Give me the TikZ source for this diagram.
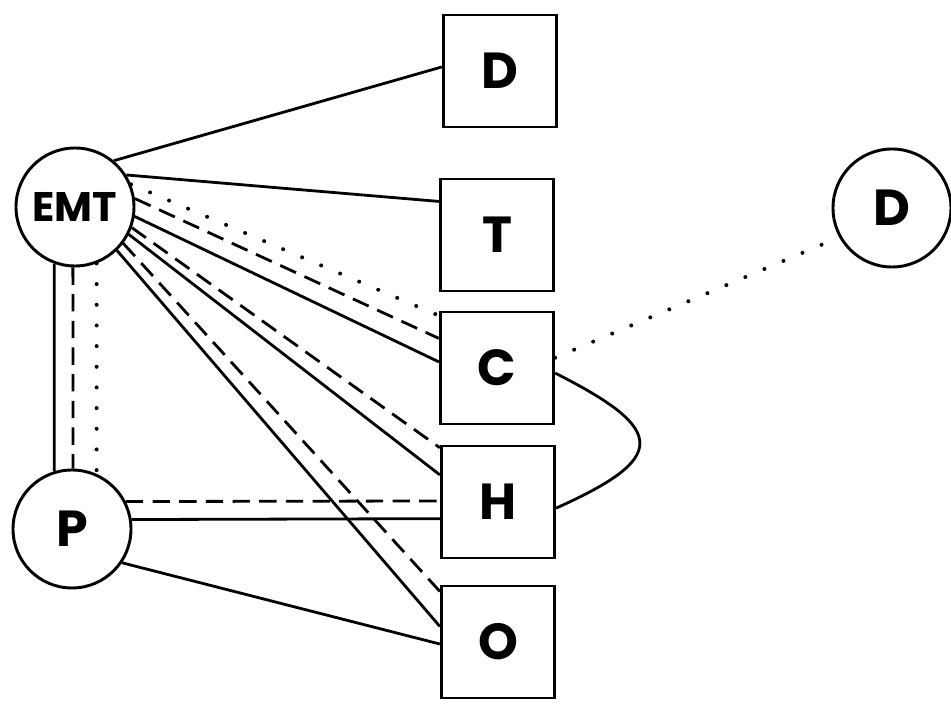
\documentclass[tikz,border=0pt]{standalone}
\usepackage{fontspec}
\setmainfont{Poppins}

\begin{document}
\begin{tikzpicture}[x=0.75pt,y=-0.75pt]
   \useasboundingbox (0,0) rectangle (951,705);
   \tikzset{VertexStyle/.style={draw, circle, line width=2.2pt, minimum size=88.5pt, inner sep=0pt,
      font=\fontsize{38}{40}\selectfont\bfseries}}
   \tikzset{BoxStyle/.style={draw, rectangle, line width=2.2pt, minimum width=85pt, minimum height=84pt,
      inner sep=0pt, font=\fontsize{38}{40}\selectfont\bfseries}}
   \tikzset{EdgeStyle/.style={line width=2.1pt}}
   \tikzset{DashEdge/.style={EdgeStyle, dash pattern=on 13pt off 7pt}}
   \tikzset{DotEdge/.style={line width=3pt, line cap=round, dash pattern=on 0pt off 15.5pt}}

   \node[VertexStyle, font=\fontsize{31}{33}\selectfont\bfseries] (EMT) at (75,207) {EMT};
   \node[VertexStyle] (P) at (72,529) {P};
   \node[VertexStyle] (DR) at (892,208) {D};

   \node[BoxStyle] (D) at (500,71) {D};
   \node[BoxStyle] (T) at (497,235) {T};
   \node[BoxStyle] (C) at (497,368) {C};
   \node[BoxStyle] (H) at (498,502) {H};
   \node[BoxStyle] (O) at (498,642) {O};

   % EMT to the boxes
   \draw[EdgeStyle] (EMT.50) -- (D.176);
   \draw[EdgeStyle] (EMT.32) -- (T.150);
   \draw[DotEdge] (EMT.22) -- (C.138);
   \draw[DashEdge] (EMT.8) -- (C.153);
   \draw[EdgeStyle] (EMT.-9) -- (C.174);
   \draw[DashEdge] (EMT.-20) -- (H.137);
   \draw[EdgeStyle] (EMT.-27) -- (H.155);
   \draw[DashEdge] (EMT.-37) -- (O.139);
   \draw[EdgeStyle] (EMT.-46) -- (O.165);

   % EMT to P
   \draw[EdgeStyle] (EMT.250) -- (P.107);
   \draw[DashEdge] (EMT.268) -- (P.89);
   \draw[DotEdge] (EMT.291) -- (P.66);

   % P to the boxes
   \draw[DashEdge] (P.27) -- (H.179);
   \draw[EdgeStyle] (P.9) -- (H.196);
   \draw[EdgeStyle] (P.-34) -- (O.182);

   \draw[DotEdge] (C.10) -- (DR.209);
%   \draw[EdgeStyle] (C.east) to[out=-20, in=20] (H.east);
   \draw[EdgeStyle] (C.-5) .. controls (668,430) and (668,458) .. (H.-6);
\end{tikzpicture}
\end{document}
